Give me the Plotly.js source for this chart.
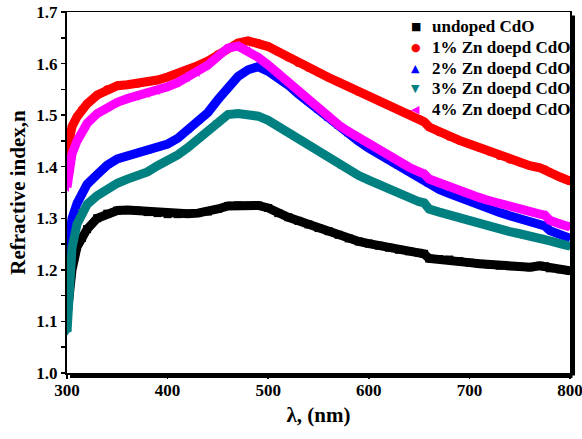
<!DOCTYPE html>
<html>
<head>
<meta charset="utf-8">
<script src="https://cdn.plot.ly/plotly-3.0.1.min.js"></script>
<style>html,body{margin:0;padding:0;background:#fff;}</style>
</head>
<body>
<div id="chart" style="width:582px;height:439px;"></div>
<script>
const wavelength = [300,302,305,310,315,320,330,340,350,360,370,380,390,400,410,420,430,440,450,460,470,480,490,500,510,520,530,540,550,560,570,580,590,600,610,620,630,640,650,655,660,670,680,690,700,710,720,730,740,750,760,770,775,780,790,800];

const undoped = [1.11,1.16,1.20,1.245,1.262,1.279,1.300,1.309,1.315,1.316,1.315,1.312,1.310,1.308,1.308,1.309,1.310,1.313,1.318,1.324,1.325,1.324,1.325,1.320,1.310,1.302,1.295,1.288,1.281,1.275,1.268,1.261,1.255,1.251,1.247,1.243,1.239,1.236,1.233,1.231,1.222,1.221,1.220,1.217,1.214,1.212,1.210,1.208,1.207,1.206,1.205,1.208,1.207,1.203,1.201,1.198];

const zn1 = [1.43,1.455,1.478,1.497,1.511,1.522,1.539,1.550,1.557,1.559,1.561,1.565,1.568,1.574,1.580,1.587,1.596,1.605,1.618,1.630,1.640,1.644,1.640,1.633,1.623,1.612,1.601,1.592,1.582,1.573,1.564,1.555,1.545,1.537,1.528,1.519,1.510,1.502,1.492,1.487,1.477,1.467,1.458,1.451,1.444,1.437,1.429,1.421,1.414,1.408,1.402,1.398,1.395,1.389,1.380,1.372];

const zn2 = [1.22,1.26,1.30,1.329,1.352,1.366,1.385,1.403,1.415,1.420,1.425,1.430,1.436,1.444,1.455,1.470,1.487,1.505,1.530,1.556,1.575,1.588,1.594,1.585,1.573,1.558,1.541,1.525,1.509,1.493,1.478,1.463,1.449,1.436,1.424,1.412,1.400,1.389,1.380,1.375,1.365,1.356,1.348,1.340,1.332,1.325,1.318,1.311,1.305,1.299,1.293,1.288,1.285,1.276,1.268,1.261];

const zn3 = [1.08,1.165,1.243,1.289,1.314,1.327,1.344,1.357,1.368,1.376,1.382,1.390,1.402,1.411,1.423,1.437,1.452,1.468,1.486,1.501,1.503,1.502,1.498,1.490,1.478,1.466,1.454,1.443,1.430,1.417,1.404,1.393,1.383,1.374,1.365,1.356,1.347,1.339,1.332,1.330,1.318,1.312,1.306,1.300,1.295,1.290,1.284,1.279,1.274,1.270,1.266,1.264,1.262,1.256,1.251,1.246];

const zn4 = [1.36,1.40,1.425,1.45,1.468,1.484,1.503,1.516,1.525,1.532,1.537,1.542,1.548,1.555,1.563,1.573,1.583,1.597,1.614,1.630,1.634,1.625,1.612,1.597,1.580,1.562,1.545,1.528,1.512,1.496,1.481,1.468,1.456,1.444,1.432,1.420,1.409,1.399,1.390,1.386,1.376,1.368,1.360,1.353,1.347,1.340,1.334,1.328,1.322,1.317,1.312,1.308,1.306,1.296,1.289,1.283];

const seriesNames = ['undoped CdO','1% Zn doepd CdO','2% Zn doepd CdO','3% Zn doepd CdO','4% Zn doepd CdO'];
const seriesValues = [undoped, zn1, zn2, zn3, zn4];
const colors = ['#000000','#ff0000','#0000ff','#008080','#ff00ff'];
const symbols = ['square','circle','triangle-up','triangle-down','triangle-left'];
const legendGlyphs = ['■','●','▲','▼','◀'];

const traces = [];
seriesValues.forEach((vals, i) => {
  traces.push({
    x: wavelength, y: vals, type: 'scatter', mode: 'lines',
    line: {color: colors[i], width: 9}, showlegend: false, hoverinfo: 'skip'
  });
  traces.push({
    x: wavelength, y: vals, type: 'scatter', mode: 'markers', name: seriesNames[i],
    marker: {color: colors[i], symbol: symbols[i], size: 8, line: {width: 0}},
    showlegend: false
  });
});

const fontFam = '"Liberation Serif", "Times New Roman", serif';

// custom legend (text annotations), plot area: left 67px, width 505px, top 10px, height 363px
const legendAnn = [];
const rowPx = [25, 45.7, 66.5, 87.2, 108];
seriesNames.forEach((nm, i) => {
  const yp = (373 - rowPx[i]) / 363;
  legendAnn.push({
    xref: 'paper', yref: 'paper', x: (417 - 67) / 505, y: yp, xanchor: 'center', yanchor: 'middle',
    text: legendGlyphs[i], showarrow: false,
    font: {family: 'DejaVu Sans', size: 11, color: colors[i]}
  });
  legendAnn.push({
    xref: 'paper', yref: 'paper', x: (431 - 67) / 505, y: yp, xanchor: 'left', yanchor: 'middle',
    text: nm, showarrow: false,
    font: {family: fontFam, size: 17, weight: 'bold', color: '#000'}
  });
});

const layout = {
  width: 582, height: 439,
  margin: {l: 67, r: 10, t: 10, b: 66},
  paper_bgcolor: '#fff', plot_bgcolor: '#fff',
  font: {family: fontFam, color: '#000', size: 17, weight: 'bold'},
  showlegend: false,
  xaxis: {
    range: [300, 800], tickvals: [300,400,500,600,700,800],
    ticks: 'outside', ticklen: 4, tickwidth: 1.5, tickcolor: '#000',
    ticklabelstandoff: -3, ticklabeloverflow: 'allow', automargin: 'height',
    showline: true, linecolor: '#000', linewidth: 1.5, mirror: true,
    showgrid: false, zeroline: false,
    tickfont: {family: fontFam, size: 17, weight: 'bold', color: '#000'},
    title: {text: 'λ, (nm)', font: {family: fontFam, size: 21, weight: 'bold', color: '#000'}, standoff: 8}
  },
  yaxis: {
    range: [1.0, 1.7], dtick: 0.1, tickformat: '.1f',
    ticks: 'outside', ticklen: 4, tickwidth: 1.5, tickcolor: '#000',
    minor: {dtick: 0.05, ticks: 'outside', ticklen: 4, tickwidth: 1.5, tickcolor: '#000'},
    showline: true, linecolor: '#000', linewidth: 2, mirror: true,
    showgrid: false, zeroline: false, automargin: 'width',
    tickfont: {family: fontFam, size: 17, weight: 'bold', color: '#000'},
    title: {text: 'Refractive index,n', font: {family: fontFam, size: 21, weight: 'bold', color: '#000'}, standoff: 5}
  },
  annotations: legendAnn,
  shapes: [
    {type: 'line', xref: 'paper', yref: 'paper', x0: 0.006, x1: 1.005, y0: -0.007, y1: -0.007, line: {color: '#000', width: 5}},
    {type: 'line', xref: 'paper', yref: 'paper', x0: 1.005, x1: 1.005, y0: -0.007, y1: 0.99, line: {color: '#000', width: 5}}
  ]
};

Plotly.newPlot('chart', traces, layout, {displayModeBar: false, staticPlot: true});
</script>
</body>
</html>
